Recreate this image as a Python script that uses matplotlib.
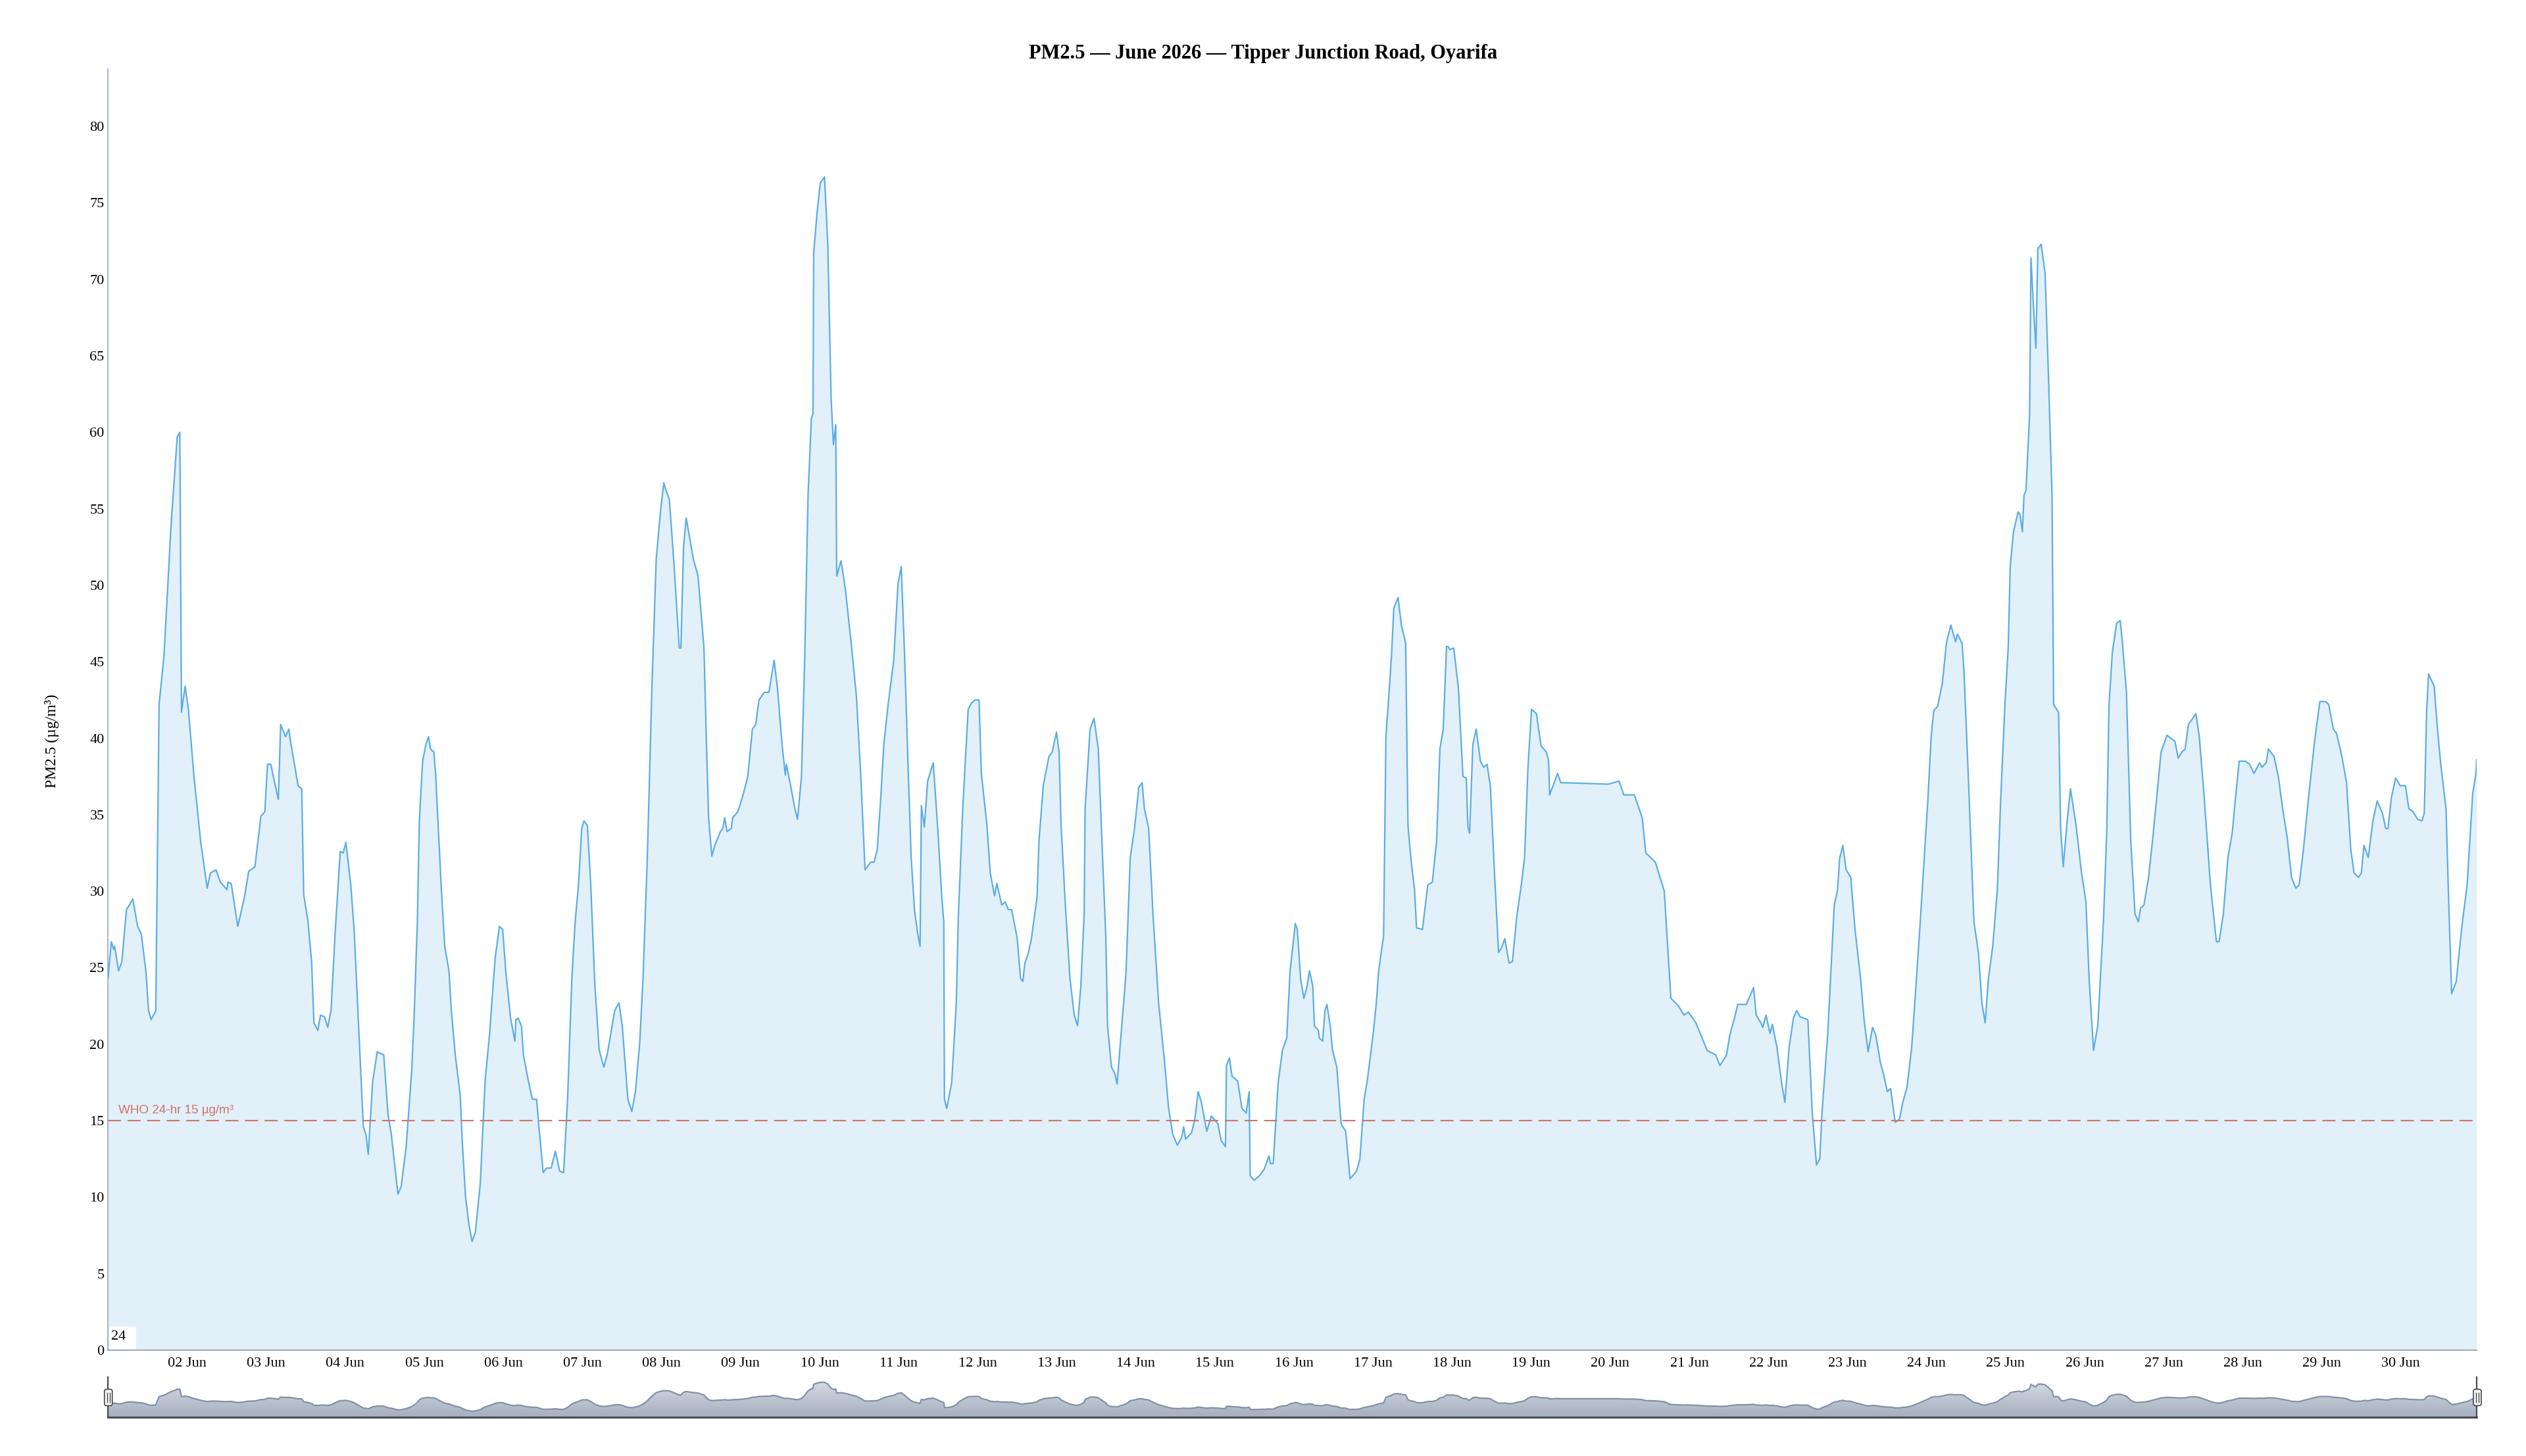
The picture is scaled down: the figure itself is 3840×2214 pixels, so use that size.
import matplotlib
matplotlib.use("Agg")
import matplotlib.pyplot as plt
import matplotlib.dates as mdates
from matplotlib.patches import FancyBboxPatch, Rectangle
from matplotlib.transforms import IdentityTransform
from matplotlib.lines import Line2D
from matplotlib.colors import LinearSegmentedColormap
import numpy as np
from datetime import datetime, timedelta

# ---------------- data (hours since 2026-06-01 00:00, PM2.5 in ug/m3) -------------
hours = [
    0, 1, 1.7, 2.0, 3.2, 4.2, 5.6, 6.5, 7.5, 9, 10.1, 11.5, 12.3, 13.1, 14.5, 15.5, 17, 19.1, 21, 21.8,
    22.3, 23.4, 24.4, 26.1, 28.1, 30.1, 31.1, 32.8, 34.1, 36.1, 36.4, 37.4, 39.4, 41.4, 42.7, 44.6, 46.4,
    47.6, 48.4, 49.4, 51.7, 52.4, 53.9, 54.9, 55.4, 57.7, 58.8, 59.4, 60.7, 61.8, 62.5, 63.7, 64.5, 65.7,
    66.7, 67.7, 69, 70.5, 71.4, 72.2, 73.7, 74.7, 76.3, 77.5, 78.3, 79, 80.3, 81.7, 83.7, 85, 86, 88, 89,
    90.5, 92.2, 92.9, 93.9, 94.5, 95.5, 96.5, 97.3, 97.9, 98.9, 99.5, 100.4, 101.2, 102.2, 103.5, 104.2,
    105.5, 106.9, 107.5, 108.5, 109.5, 110.5, 111.5, 113, 114.5, 115.8, 117.5, 118.8, 119.8, 120.8, 122.2,
    123.5, 123.8, 124.5, 125.5, 126.1, 127.5, 128.8, 130.1, 130.8, 132.1, 133.1, 134.5, 135.8, 137.1,
    138.3, 139.5, 140.8, 141.8, 142.8, 143.8, 144.5, 145.5, 146.5, 147.8, 149.1, 150.5, 151.5, 152.4,
    153.8, 155.1, 156.1, 157.8, 159, 160.1, 161.4, 162.4, 163.7, 165.1, 166.4, 167.7, 168.7, 169.4, 170.4,
    171.7, 172.7, 173.4, 173.9, 174.7, 175.5, 177.7, 179.1,
    180.9, 181.6, 182.3, 183.3, 184.2, 185.9, 186.6, 187.2, 187.9, 189.2, 189.6, 191.2, 192.9, 194.2,
    195.6, 196.6, 197.6, 199.2, 200.6, 202.2, 203.2, 204.6, 205.6, 205.9, 207.2, 208.5, 209.3, 210.5,
    211.5, 212.5, 213.5, 214.0, 214.2, 215.2, 216.2, 217.5, 218.5, 219.5, 220.2, 220.9, 221.2, 222.5,
    223.8, 225.5, 227.2, 228.5, 229.8, 231.5, 232.5, 233.5, 234.5, 235.5, 236.8, 238.5, 239.8, 240.8,
    241.8, 242.8, 243.8, 244.8, 245.8, 246.5, 246.9, 247.8, 248.8, 250.5, 251.8, 253.1, 253.7, 253.9,
    254.6, 256.1, 257.5, 258.1, 259.5, 261.1, 262.1, 263.1, 264.4, 265.1, 266.8, 267.8, 269.1,
    269.8, 271.3, 272.3, 273.3, 274.3, 276.0, 277.0, 277.7, 278.3, 279.3, 280.3, 282.0, 282.6, 283.9,
    285.6, 286.6, 287.9, 288.7, 289.3, 290.6, 292.0, 293.3, 294.3, 295.3, 296.3, 296.6, 298.1, 299.3,
    300.6, 301.9, 302.9, 303.4, 304.6, 305.6, 306.3, 307.3, 309.0, 310.3, 311.6, 312.9, 313.9, 314.6,
    315.9, 317.2, 318.9, 320.6, 321.9, 323.2, 324.6, 325.9, 326.5, 327.1, 328.9, 329.9, 330.9, 331.9,
    333.5, 334.9, 336.9, 337.9, 339.2, 339.5, 340.4, 341.2, 342.9, 344.2, 345.5, 346.4, 346.7, 347.9,
    349.5, 350.9, 352.4, 352.8, 353.7, 355.2, 356.5, 357.8, 358.8,
    359.4, 360.4, 361.0, 362.0, 363.0, 364.0, 364.7, 365.7, 366.2, 367.4, 367.7, 368.7, 369.4, 370.0,
    371.0, 371.7, 373.0, 374.3, 375.7, 377.0, 379.0, 380.0, 381.3, 382.3, 384.0, 385.0, 385.7, 387.2,
    387.9, 388.6, 389.6, 390.3, 391.6, 392.6, 393.9, 394.6, 395.6, 396.6, 397.2, 399.0, 400.6, 402.0,
    403.3, 404.3, 405.3, 406.3, 406.8, 407.3, 408.5, 409.9, 411.3, 412.3, 412.8, 413.3, 414.3, 415.3,
    416.6, 417.6, 418.6, 419.6, 421.0, 422.1, 423.0, 424.0, 425.3, 426.3, 427.6, 429.0, 430.0, 431.0,
    432.1, 433.6, 435.0, 436.6, 437.3, 437.6, 439.0, 440.0, 441.0,
    455.4, 458.7, 460.1, 463.3, 465.7, 466.8, 469.7, 472.4, 474.4, 476.7, 478.4, 479.7, 482.0, 485.4,
    488.0, 489.3, 491.3, 492.3, 493.7, 494.7, 497.3, 499.5, 500.3, 501.7, 502.3, 503.3, 504.5, 505.2,
    506.6, 508.0, 509.0, 510.3, 511.6, 512.6, 513.6, 516.0, 517.3, 518.6, 519.6, 520.3, 522.0, 524.0,
    525.0, 525.6, 526.6, 527.6, 529.0, 530.3, 532.0, 533.0, 534.3, 535.6, 536.6, 538.0, 539.0,
    540.1, 541.1, 542.5, 543.8, 544.8, 546.1, 547.5, 548.8, 550.1, 551.4, 552.4, 553.4, 554.2, 555.4,
    556.8, 558.1, 559.4, 560.8, 561.4, 562.8, 563.4, 564.8, 566.4, 567.8, 568.8, 569.8, 570.8, 572.1,
    573.5, 574.5, 575.8, 576.8, 577.4, 578.4, 579.8, 580.4, 581.1, 581.6, 582.2, 583.3, 583.7, 584.4,
    585.2, 585.8, 586.8, 588.0, 589.0, 590.1, 590.6, 592.1, 592.7, 593.5, 594.7, 595.7, 597.4, 599.0,
    600.4, 601.4, 602.7, 604.0, 605.7, 606.7, 607.4, 608.4, 609.7, 610.8, 611.4, 612.7, 614.0, 615.3,
    616.3, 617.0, 618.0, 619.4, 620.7, 622.0, 623.2, 625.0, 627.4, 628.4, 629.5,
    630.5, 631.5, 633.8, 634.8, 636.2, 638.2, 640.0, 640.8, 642.1, 643.5, 644.8, 645.8, 646.9, 648.8,
    650.1, 651.4, 652.4, 653.1, 653.8, 655.1, 655.8, 657.5, 658.8, 660.1, 661.5, 662.8, 664.1, 665.1,
    666.4, 668.1, 669.8, 671.4, 673.1, 674.1, 675.5, 676.5, 678.1, 679.5, 680.8, 681.8, 683.1, 684.0,
    684.8, 686.1, 687.5, 688.8, 690.4, 691.4, 692.1, 693.1, 694.4, 695.8, 697.4, 698.4, 699.7, 701.1,
    702.4, 703.1, 703.8, 704.4, 706.1, 707.1, 708.1, 709.7, 710.4, 711.4, 712.8, 714.4, 716.1, 717.8,
    718.8, 719.0,
]
pm25 = [
    24.3, 26.7, 26.2, 26.4, 24.8, 25.4, 28.8, 29.1, 29.5, 27.7, 27.2, 24.8, 22.2, 21.6, 22.2, 42.2, 45.4, 53.8, 59.7, 60.0,
    41.7, 43.4, 41.9, 37.5, 33.3, 30.2, 31.2, 31.4, 30.6, 30.1, 30.6, 30.5, 27.7, 29.6, 31.3, 31.6, 34.9,
    35.2, 38.3, 38.3, 36.0, 40.9, 40.1, 40.6, 39.8, 36.9, 36.7, 29.8, 28.0, 25.4, 21.4, 20.9, 21.9, 21.8,
    21.1, 22.2, 27.5, 32.6, 32.5, 33.2, 30.4, 27.5, 20.1, 14.6, 14.1, 12.8, 17.5, 19.5, 19.3, 15.4, 14.1, 10.2, 10.7,
    13.3, 18.3, 21.7, 28.0, 34.6, 38.5, 39.6, 40.1, 39.3, 39.1, 37.5, 33.5, 30.1, 26.4, 24.8, 22.2,
    19.1, 16.7, 13.8, 10.1, 8.3, 7.1, 7.7, 10.9, 17.7, 20.6, 25.6, 27.7, 27.5, 24.6, 21.7,
    20.2, 21.6, 21.7, 21.2, 19.3, 17.7, 16.4, 16.4, 14.6, 11.6, 11.9, 11.9, 13.0, 11.7,
    11.6, 16.4, 24.3, 28.0, 30.4, 34.1, 34.6, 34.3, 30.6, 23.8, 19.6, 18.5, 19.3, 20.4,
    22.2, 22.7, 21.2, 16.4, 15.6, 16.9, 20.1, 24.3, 32.2, 43.3, 51.7, 54.8, 56.7, 56.2, 55.6,
    51.7, 48.3, 45.9, 45.9, 52.5, 54.4, 51.7, 50.6,
    45.9, 40.1, 34.8, 32.3, 33.0, 33.9, 34.1, 34.8, 33.9, 34.1, 34.8, 35.2, 36.4, 37.5,
    40.6, 40.9, 42.5, 43.0, 43.0, 45.1, 43.3, 39.6, 37.6, 38.3, 36.9, 35.4, 34.7, 37.5,
    45.4, 55.9, 60.9, 61.2, 71.7, 74.3, 76.3, 76.7, 72.2, 62.2, 59.2, 60.5, 50.6, 51.6,
    49.8, 46.4, 42.7, 37.5, 31.4, 31.9, 31.9, 32.7, 35.9, 39.6, 42.2, 45.1, 50.1, 51.2,
    45.4, 38.5, 32.2, 28.8, 27.2, 26.4, 35.6, 34.2, 37.2, 38.4, 34.3, 29.6, 28.0, 16.4,
    15.8, 17.5, 22.7, 28.3, 35.6, 41.9, 42.3, 42.5, 42.5, 37.7, 34.3, 31.2, 29.7,
    30.5, 29.1, 29.3, 28.8, 28.8, 26.9, 24.3, 24.1, 25.3, 25.9, 26.9, 29.6, 33.3, 36.9,
    38.8, 39.1, 40.4, 39.1, 34.3, 29.1, 24.3, 21.9, 21.2, 23.8, 28.5, 35.4, 40.6, 41.3,
    39.3, 32.2, 26.9, 21.2, 18.5, 18.1, 17.4, 20.1, 24.6, 32.2, 34.1, 36.8, 37.1, 35.4,
    34.1, 28.5, 22.7, 19.1, 15.9, 14.1, 13.4, 13.9, 14.6, 13.8, 14.2, 15.1, 16.9, 16.2,
    14.3, 15.3, 14.8, 13.7, 13.3, 18.6, 19.1, 17.9, 17.6, 15.8, 15.5, 16.9, 11.4, 11.1,
    11.4, 11.8, 12.7, 12.2, 12.2, 17.5, 19.6, 20.4, 24.8,
    25.9, 27.9, 27.5, 24.3, 23.0, 23.8, 24.8, 23.8, 21.2, 20.9, 20.4, 20.2, 22.2, 22.6,
    21.2, 19.6, 18.5, 14.8, 14.3, 11.2, 11.7, 12.5, 16.4, 17.7, 20.6, 22.7, 24.8, 27.1,
    40.1, 42.2, 45.4, 48.5, 49.2, 47.4, 46.2, 34.3, 31.9, 30.1, 27.6, 27.5, 30.4, 30.6,
    33.3, 39.3, 40.6, 46.0, 46.0, 45.8, 45.9, 43.3, 37.5, 37.4, 34.2, 33.8, 39.6, 40.6,
    38.5, 38.1, 38.3, 36.9, 30.6, 26.0, 26.3, 26.9, 25.3, 25.4, 28.3, 30.4, 32.2, 38.0,
    41.9, 41.6, 39.5, 39.1, 38.5, 36.3, 37.1, 37.7, 37.1,
    37.0, 37.2, 36.3, 36.3, 34.8, 32.5, 31.9, 30.0, 23.0, 22.5, 21.9, 22.1, 21.4, 19.6,
    19.3, 18.6, 19.3, 20.6, 21.7, 22.6, 22.6, 23.7, 21.9, 21.4, 21.1, 21.9, 20.7, 21.3,
    19.8, 17.5, 16.2, 19.8, 21.7, 22.2, 21.8, 21.6, 15.6, 12.1, 12.5, 15.6, 20.6, 29.1,
    30.1, 32.1, 33.0, 31.4, 30.9, 27.5, 24.3, 21.7, 19.5, 21.1, 20.6, 18.8, 18.0,
    16.9, 17.1, 14.9, 15.1, 16.2, 17.2, 19.8, 23.8, 28.0, 32.5, 35.9, 40.1, 41.8, 42.1,
    43.6, 46.3, 47.4, 46.3, 46.8, 46.2, 44.3, 36.9, 28.0, 25.9, 22.7, 21.4, 24.3, 26.4,
    30.1, 35.9, 42.2, 45.9, 51.2, 53.5, 54.8, 54.6, 53.5, 55.9, 56.2, 61.2, 71.4, 68.5,
    65.5, 72.0, 72.3, 70.4, 63.8, 55.9, 42.2, 41.7, 34.1, 31.6, 34.6, 36.7, 34.3, 31.3,
    29.3, 24.1, 19.6, 21.2, 28.0, 33.8, 42.2, 45.6, 47.5, 47.7, 46.4, 43.0, 33.3, 28.5,
    28.0, 28.9, 29.1, 30.9, 33.5, 36.4, 39.1, 40.2, 39.8, 38.7, 39.1,
    39.3, 40.9, 41.6, 40.1, 36.4, 30.4, 26.7, 26.7, 28.5, 32.2, 33.8, 36.1, 38.5, 38.5,
    38.3, 37.7, 38.1, 38.4, 38.1, 38.4, 39.3, 38.8, 37.5, 35.4, 33.5, 30.9, 30.2, 30.4,
    32.7, 36.4, 39.8, 42.4, 42.4, 42.2, 40.6, 40.3, 38.8, 37.1, 32.7, 31.2, 30.9, 31.2,
    33.0, 32.2, 34.6, 35.9, 35.1, 34.1, 34.1, 36.1, 37.4, 36.9, 36.9, 35.4, 35.2, 34.7,
    34.6, 35.1, 41.7, 44.2, 43.4, 40.6, 38.3, 35.4, 30.1, 23.3, 24.1, 27.5, 30.4, 36.4,
    37.7, 38.6,
]
who_limit = 15
who_label = "WHO 24-hr 15 µg/m³"
title = "PM2.5 — June 2026 — Tipper Junction Road, Oyarifa"
y_label = "PM2.5 (µg/m³)"
y_ticks = list(range(0, 85, 5))
corner_label = "24"
start = datetime(2026, 6, 1)
end_hours = 719

# ---------------- figure ----------------
W, H = 3840, 2214
fig = plt.figure(figsize=(W / 100, H / 100), dpi=100)
fig.patch.set_facecolor("white")

times = [start + timedelta(hours=h) for h in hours]
t0, t1 = start, start + timedelta(hours=end_hours)

LINE = "#5dade2"
WHO_C = "#d0736b"
AXC = "#98a6bb"
SERIF = ["Liberation Serif", "DejaVu Serif"]
SANS = ["Liberation Sans", "DejaVu Sans"]

# main axes (pixel geometry: left 164, right 3765, top 105, bottom 2053)
L, R, T, B = 164.2, 3765.0, 105.0, 2053.0
ax = fig.add_axes([L / W, (H - B) / H, (R - L) / W, (B - T) / H])
ax.set_facecolor("white")
ax.fill_between(times, pm25, 0, color=LINE, alpha=0.18, lw=0, zorder=1)
ax.plot(times, pm25, color=LINE, lw=1.6, zorder=3, solid_joinstyle="round")
ax.axhline(who_limit, color=WHO_C, lw=1.5, dashes=(9.5, 4.8), zorder=4)
ax.text(t0 + timedelta(hours=3.2), who_limit + 0.3, who_label, color=WHO_C,
        fontsize=13.6, family=SANS, ha="left", va="bottom", zorder=5)

ax.set_xlim(t0, t1)
ax.set_ylim(0, (B - T) / 23.26)
ax.set_yticks(y_ticks)
ax.xaxis.set_major_locator(mdates.DayLocator(bymonthday=range(2, 31)))
ax.xaxis.set_major_formatter(mdates.DateFormatter("%d %b"))
ax.tick_params(axis="both", length=0, labelsize=16, colors="black")
ax.tick_params(axis="x", pad=8)
ax.tick_params(axis="y", pad=4)
for lab in ax.get_xticklabels() + ax.get_yticklabels():
    lab.set_family(SERIF)
for s in ["top", "right"]:
    ax.spines[s].set_visible(False)
ax.spines["left"].set_color(AXC)
ax.spines["left"].set_linewidth(1.2)
ax.spines["bottom"].set_color(AXC)
ax.spines["bottom"].set_linewidth(1.4)
ax.set_ylabel(y_label, family=SERIF, fontsize=17)
ax.yaxis.set_label_coords((90 - L) / (R - L), (B - 1127) / (B - T))

# small "24" box at lower-left corner
ax.add_patch(Rectangle((0.0004, 0.0005), 41 / (R - L), 35 / (B - T), transform=ax.transAxes,
                       facecolor="white", edgecolor="none", zorder=6))
ax.text(0.0012, 0.0055, corner_label, transform=ax.transAxes, family=SERIF, fontsize=16,
        ha="left", va="bottom", zorder=7)

# title
fig.text(0.5, 1 - 81 / H, title, ha="center", va="center", family=SERIF,
         fontsize=22, fontweight="bold")

# ---------------- navigator ----------------
NT, NB = 2094.0, 2155.0
nav = fig.add_axes([L / W, (H - NB) / H, (R - L) / W, (NB - NT) / H])
nav.set_xlim(t0, t1)
zero_px, px_per = 2150.4, 0.634
nav.set_ylim(-(NB - zero_px) / px_per, (zero_px - NT) / px_per)
ylo, yhi = nav.get_ylim()
poly = nav.fill_between(times, pm25, ylo, color="none", lw=0)
grad = np.linspace(0, 1, 256).reshape(-1, 1)
cmap = LinearSegmentedColormap.from_list("navg", ["#d6dbe3", "#a6afc0"])
im = nav.imshow(grad, extent=[mdates.date2num(t0), mdates.date2num(t1), ylo, 80],
                aspect="auto", cmap=cmap, origin="upper", zorder=1)
im.set_clip_path(poly.get_paths()[0], transform=nav.transData)
nav.plot(times, pm25, color="#8291a8", lw=1.6, zorder=2)
nav.set_xticks([])
nav.set_yticks([])
nav.spines["top"].set_visible(False)
for s in ["left", "right", "bottom"]:
    nav.spines[s].set_color("#474c56")
    nav.spines[s].set_linewidth(1.6)
nav.spines["bottom"].set_linewidth(2.2)
nav.patch.set_alpha(0)

# handles (pixel coordinates, origin bottom-left)
for hx in (L + 0.5, R + 1):
    ycen = H - 2125
    hp = FancyBboxPatch((hx - 6, ycen - 12.5), 12, 25,
                        boxstyle="round,pad=0,rounding_size=3",
                        facecolor="#f2f2f2", edgecolor="#3d3d3d", lw=1.1,
                        transform=IdentityTransform(), zorder=10)
    fig.patches.append(hp)
    for dx in (-2, 2):
        fig.lines.append(Line2D([hx + dx, hx + dx], [ycen - 7, ycen + 7], color="#3d3d3d",
                                lw=0.9, transform=IdentityTransform(), zorder=11))

fig.savefig("out.png", dpi=100, facecolor="white")
